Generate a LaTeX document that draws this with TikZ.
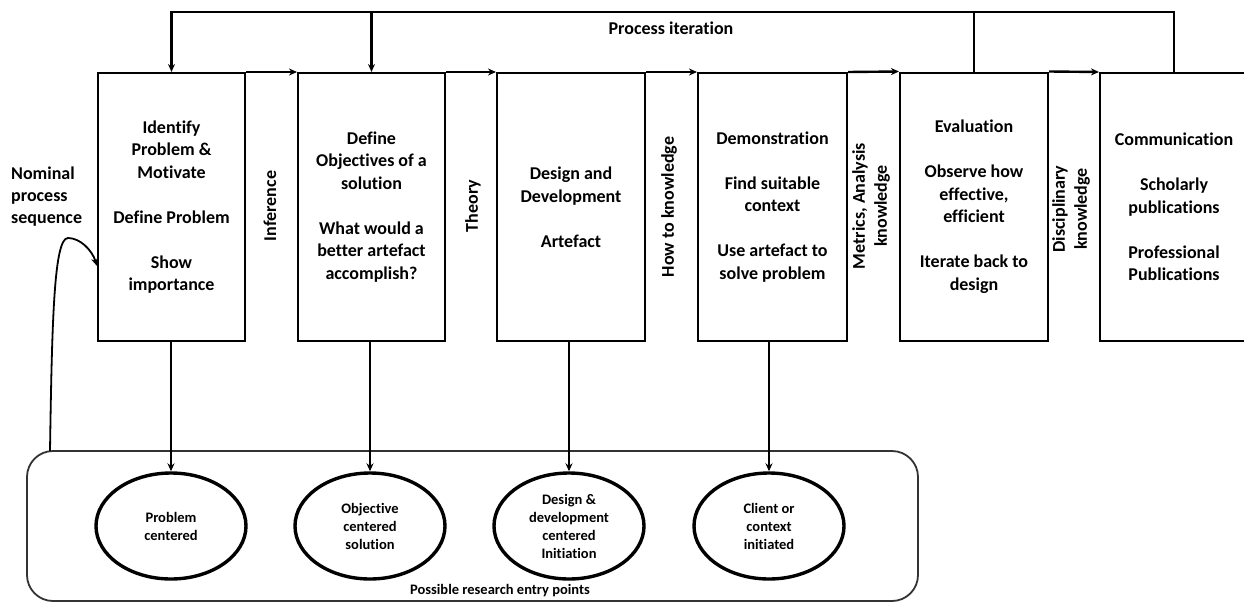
\documentclass[tikz,border=0pt]{standalone}
\usepackage{fontspec}
\setmainfont{Carlito}[Ligatures=NoCommon]
\usetikzlibrary{shapes.geometric,arrows.meta}
\begin{document}
\begin{tikzpicture}[x=1pt,y=-1pt,
  phasebox/.style={draw,line width=2pt,minimum width=148pt,minimum height=268pt,
    inner sep=0pt,align=center,font=\fontsize{18}{22.5}\selectfont\bfseries},
  lbl/.style={inner sep=0pt,align=center,font=\fontsize{18}{22}\selectfont\bfseries},
  entry/.style={ellipse,draw,line width=3.4pt,minimum width=150pt,minimum height=106pt,
    inner sep=0pt,align=center,font=\fontsize{14.5}{18}\selectfont\bfseries},
  conn/.style={line width=2.4pt},
  tip/.style={-{Stealth[length=8pt,width=7pt]}}]
\useasboundingbox (0,0) rectangle (1244,602);
\clip (0,0) rectangle (1244,602);

% entry-point container
\draw[line width=1.8pt,draw=black!80,rounded corners=26pt] (27,451) rectangle (918,601);
\node[lbl,font=\fontsize{14.5}{18}\selectfont\bfseries] (rep) at (500,591) {Possible research entry points};

% process phases
\node[phasebox,minimum width=147pt] (b1) at (171.5,207) {Identify\\Problem \&\\Motivate\\[22.5pt]Define Problem\\[22.5pt]Show\\importance};
\node[phasebox,minimum width=147pt] (b2) at (371.5,207) {Define\\Objectives of a\\solution\\[22.5pt]What would a\\better artefact\\accomplish?};
\node[phasebox] (b3) at (571,207) {Design and\\Development\\[22.5pt]Artefact};
\node[phasebox,minimum width=149pt] (b4) at (772.5,207) {Demonstration\\[22.5pt]Find suitable\\context\\[22.5pt]Use artefact to\\solve problem};
\node[phasebox] (b5) at (974,206.5) {Evaluation\\[22.5pt]Observe how\\effective,\\efficient\\[22.5pt]Iterate back to\\design};
\node[phasebox] (b6) at (1174,207) {Communication\\[22.5pt]Scholarly\\publications\\[22.5pt]Professional\\Publications};

% knowledge labels between phases
\node[lbl,rotate=90] (k1) at (270,206) {Inference};
\node[lbl,rotate=90] (k2) at (473,206) {Theory};
\node[lbl,rotate=90] (k3) at (669,207) {How to knowledge};
\node[lbl,rotate=90] (k4) at (871,206) {Metrics, Analysis\\knowledge};
\node[lbl,rotate=90] (k5) at (1071,209) {Disciplinary\\knowledge};

% nominal sequence arrows along the top edges
\draw[conn,tip] (b1.north east) -- (b2.north west);
\draw[conn,tip] (b2.north east) -- (b3.north west);
\draw[conn,tip] (b3.north east) -- (b4.north west);
\draw[conn,tip] (b4.north east) -- (b5.north west);
\draw[conn,tip] (b5.north east) -- (b6.north west);

% process iteration loop
\coordinate (it) at (0,12);
\node[lbl] (pi) at (671,28) {Process iteration};
\draw[conn,tip] (b6.north) -- (b6.north |- it) -- (b1.north |- it) -- (b1.north);
\draw[conn] (b5.north) -- (b5.north |- it);
\draw[conn,tip] (b2.north |- it) -- (b2.north);

% research entry points
\node[entry] (e1) at (171,526) {Problem\\centered};
\node[entry] (e2) at (370,526) {Objective\\centered\\solution};
\node[entry] (e3) at (569,526) {Design \&\\development\\centered\\Initiation};
\node[entry] (e4) at (769,526) {Client or\\context\\initiated};
\draw[conn,tip] (e1.north |- b1.south) -- (e1.north);
\draw[conn,tip] (e2.north |- b2.south) -- (e2.north);
\draw[conn,tip] (e3.north |- b3.south) -- (e3.north);
\draw[conn,tip] (e4.north |- b4.south) -- (e4.north);

% nominal process sequence
\node[lbl,anchor=west,align=left] (nps) at (11,197) {Nominal\\process\\sequence};
\coordinate (ns) at (50,451);
\draw[line width=1.8pt,tip] (ns) .. controls (52,320) and (54,238) .. (68,238)
  .. controls (80,238) and (92,250) .. (b1.west |- 0,266);
\end{tikzpicture}
\end{document}
